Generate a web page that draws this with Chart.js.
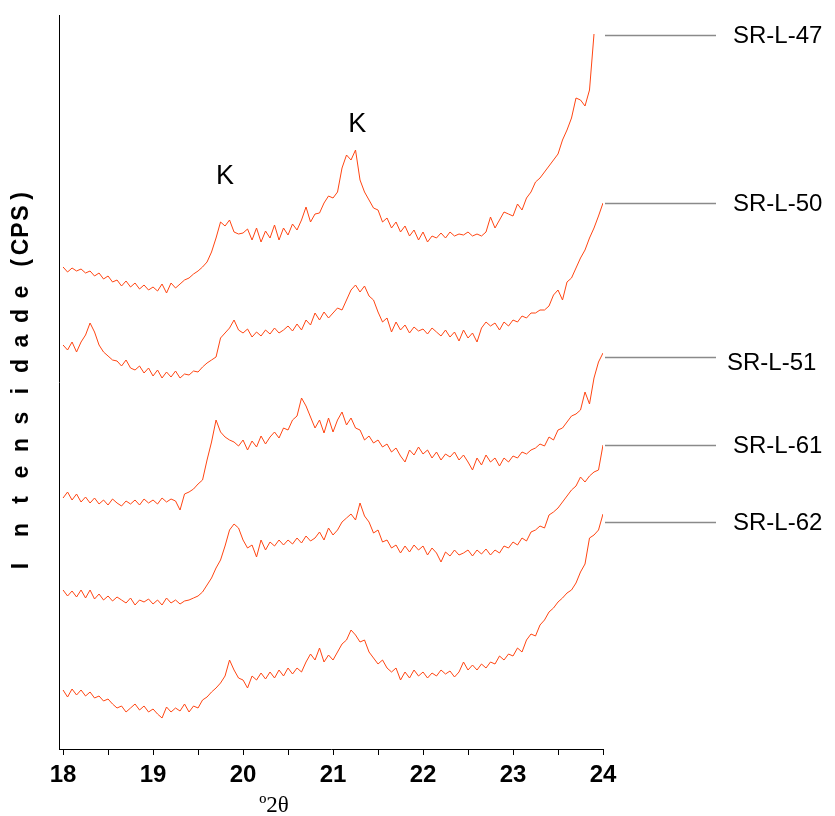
<!DOCTYPE html>
<html>
<head>
<meta charset="utf-8">
<script src="https://cdn.jsdelivr.net/npm/chart.js@4/dist/chart.umd.min.js"></script>
<style>
  html, body { margin: 0; padding: 0; background: #fff; }
  canvas { display: block; }
</style>
</head>
<body>
<canvas id="difratograma" width="835" height="816"></canvas>
<script>
/* ============================
   DADOS
============================ */

const passoInicio = 18;
const passo = 0.05;
const nPontos = 121;

const ticksX = [18, 18.5, 19, 19.5, 20, 20.5, 21, 21.5, 22, 22.5, 23, 23.5, 24];

const amostras = ['SR-L-47', 'SR-L-50', 'SR-L-51', 'SR-L-61', 'SR-L-62'];

const srL47 = [
  481,476,480,477,479,475,477,472,475,469,
  472,466,468,462,467,461,465,459,463,458,
  461,457,464,455,465,460,464,468,470,474,
  477,481,486,496,510,526,522,528,516,514,
  515,519,508,520,506,517,510,523,508,520,
  513,524,518,528,541,526,534,535,545,552,
  550,556,580,593,588,598,568,556,548,540,
  538,526,530,520,526,516,522,512,518,508,
  516,506,512,510,515,510,516,512,514,513,
  516,512,514,512,516,531,520,528,536,534,
  532,544,538,550,556,566,570,576,582,588,
  594,608,618,630,650,648,642,658,714,null,
  null
];

const srL50 = [
  403,398,406,396,406,413,425,416,403,396,
  392,388,387,382,388,380,378,382,375,380,
  372,378,370,376,371,377,370,374,373,377,
  376,381,385,388,391,410,415,420,428,418,
  415,419,411,416,412,418,414,420,415,418,
  422,417,424,418,428,423,435,428,436,430,
  435,440,438,448,458,463,456,462,452,448,
  436,426,430,416,426,418,423,415,421,417,
  419,414,420,416,412,418,411,416,407,418,
  410,415,406,420,426,422,425,418,426,422,
  428,426,432,430,435,435,438,438,442,453,
  458,448,466,470,480,490,498,510,520,532,
  545
];

const srL51 = [
  250,256,248,254,246,251,245,250,244,248,
  243,249,245,242,247,244,248,243,249,245,
  248,244,250,246,249,247,238,254,256,259,
  264,268,288,306,328,316,311,308,306,302,
  308,298,307,301,312,304,311,316,310,320,
  318,328,332,350,342,331,320,328,315,330,
  316,328,336,323,330,320,318,308,312,305,
  308,301,304,296,300,292,286,298,293,301,
  294,298,290,296,288,294,291,296,288,293,
  286,278,290,283,293,286,290,282,290,286,
  292,290,296,294,298,300,304,302,311,308,
  318,320,326,332,334,338,356,344,370,386,
  395
];

const srL61 = [
  158,152,157,151,158,150,158,149,154,148,
  152,147,151,148,145,150,143,148,146,149,
  144,148,143,150,145,148,144,147,148,150,
  152,156,163,170,180,188,202,218,224,220,
  208,200,203,191,208,198,206,202,208,203,
  208,204,210,205,212,207,210,216,208,220,
  213,218,226,230,234,228,245,232,226,215,
  218,206,208,200,203,195,202,196,203,198,
  202,193,200,195,186,196,192,198,193,195,
  198,192,198,194,199,193,198,195,202,200,
  206,203,210,207,216,218,222,220,233,236,
  240,246,252,258,262,271,266,272,276,278,
  303
];

const srL62 = [
  58,51,59,53,58,52,56,50,52,47,
  49,44,40,42,36,40,44,38,42,36,
  39,34,30,41,36,40,37,44,36,42,
  40,48,51,56,60,65,72,88,78,70,
  68,60,72,68,75,69,76,70,78,72,
  80,74,80,76,86,94,88,100,86,93,
  88,96,104,108,118,113,106,108,96,90,
  84,88,80,76,80,68,76,70,78,72,
  76,70,75,72,78,74,77,71,76,86,
  78,83,78,84,80,86,84,92,88,94,
  92,100,96,108,114,112,123,128,136,140,
  146,150,155,158,165,176,184,210,213,218,
  234
];

const series = [srL47, srL50, srL51, srL61, srL62];

// nível (CPS) onde fica a linha de cada rótulo
const nivelRotulo = [713, 545, 391, 303, 226];

// picos de caulinita
const picosK = [
  { x: 19.80, y: 571 },
  { x: 21.27, y: 623 }
];

const angulos = Array.from({ length: nPontos }, (_, i) => +(passoInicio + i * passo).toFixed(2));

/* ============================
   TEXTOS EXTRA
============================ */

const textosPlugin = {
  id: 'textos',
  afterDraw(chart) {
    const { ctx, scales } = chart;
    const sx = scales.x, sy = scales.y;
    ctx.save();

    // titulo eixo y, letra por letra
    ctx.fillStyle = '#000';
    ctx.font = 'bold 23px "Liberation Sans", Arial, sans-serif';
    ctx.textAlign = 'center';
    ctx.textBaseline = 'alphabetic';
    const letras = [
      ['I', 566], ['n', 530], ['t', 500], ['e', 472], ['n', 445], ['s', 418],
      ['i', 391], ['d', 366], ['a', 341], ['d', 316], ['e', 292],
      ['(', 263], ['C', 247], ['P', 230], ['S', 213], [')', 196]
    ];
    letras.forEach(([ch, yy]) => {
      ctx.save();
      ctx.translate(28, yy);
      ctx.rotate(-Math.PI / 2);
      ctx.fillText(ch, 0, 0);
      ctx.restore();
    });

    // titulo eixo x
    ctx.font = '23px "Liberation Serif", "Times New Roman", serif';
    ctx.textAlign = 'center';
    ctx.fillText('º2θ', 274, 812);

    // K
    ctx.font = '27px "Liberation Sans", Arial, sans-serif';
    ctx.textBaseline = 'middle';
    picosK.forEach(p => {
      ctx.fillText('K', sx.getPixelForValue(p.x), sy.getPixelForValue(p.y));
    });

    // rotulos das amostras
    const xFim = sx.getPixelForValue(24);
    ctx.font = '24px "Liberation Sans", Arial, sans-serif';
    ctx.textAlign = 'left';
    amostras.forEach((nome, i) => {
      const y = Math.round(sy.getPixelForValue(nivelRotulo[i])) + 0.5;
      ctx.strokeStyle = '#8a8a8a';
      ctx.lineWidth = 1.5;
      ctx.beginPath();
      ctx.moveTo(xFim + 2, y);
      ctx.lineTo(716, y);
      ctx.stroke();
      const dx = nome === 'SR-L-51' ? 727 : 733;
      const dy = nome === 'SR-L-51' ? 6 : 1;
      ctx.fillStyle = '#000';
      ctx.fillText(nome, dx, y + dy);
    });

    ctx.restore();
  }
};

/* ============================
   GRAFICO
============================ */

const datasets = series.map((valores, i) => ({
  label: amostras[i],
  data: valores.map((v, j) => ({ x: angulos[j], y: v })),
  borderColor: '#ff4512',
  borderWidth: 1,
  pointRadius: 0,
  tension: 0,
  spanGaps: false
}));

new Chart(document.getElementById('difratograma'), {
  type: 'line',
  data: { datasets },
  options: {
    responsive: false,
    animation: false,
    layout: { padding: { left: 59, right: 232, top: 15, bottom: 0 } },
    plugins: {
      legend: { display: false },
      tooltip: { enabled: false }
    },
    scales: {
      x: {
        type: 'linear',
        min: 17.955,
        max: 24,
        bounds: 'data',
        afterFit: s => { s.height = 67; },
        afterBuildTicks: s => { s.ticks = ticksX.map(v => ({ value: v })); },
        border: { display: true, color: '#000', width: 1 },
        grid: { drawOnChartArea: false, drawTicks: true, tickLength: 6, color: '#000' },
        ticks: {
          autoSkip: false,
          maxRotation: 0,
          padding: 6,
          color: '#000',
          font: { family: '"Liberation Sans", Arial, sans-serif', size: 24, weight: 'bold' },
          callback: v => Math.abs(v - Math.round(v)) < 1e-6 ? Math.round(v) : ''
        }
      },
      y: {
        min: -1,
        max: 733,
        afterFit: s => { s.width = 0; },
        border: { display: true, color: '#000', width: 1 },
        grid: { drawOnChartArea: false, drawTicks: false },
        ticks: { display: false }
      }
    }
  },
  plugins: [textosPlugin]
});
</script>
</body>
</html>
